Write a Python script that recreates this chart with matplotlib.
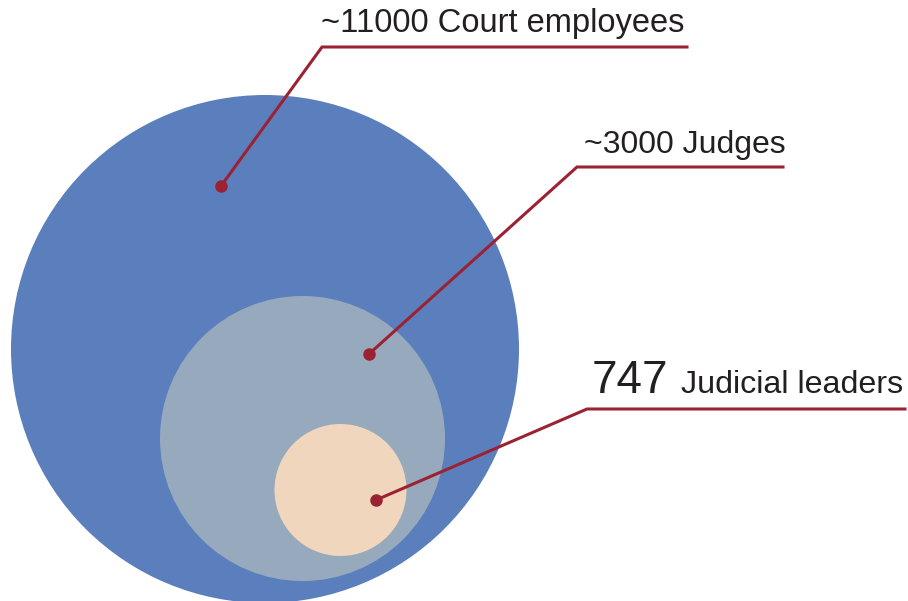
import matplotlib.pyplot as plt
from matplotlib.patches import Circle

# nested groups, largest first
groups = ["Court employees", "Judges", "Judicial leaders"]
counts = ["~11000", "~3000", "747"]
fills = ["#5b7fbd", "#97a9bd", "#f0d6bc"]

# circle geometry in pixel coords (y down)
centers = [(265, 349), (302.5, 438.5), (340.5, 490)]
radii = [254, 142.5, 66]

# callouts: dot, elbow, end of underline
dots = [(221, 186), (369, 354), (376, 500)]
elbows = [(322, 47), (577, 167), (587, 409)]
line_ends = [687, 783, 905]

red = "#9b2233"
ink = "#231f20"
plt.rcParams['font.family'] = ['Liberation Sans', 'DejaVu Sans']

fig = plt.figure(figsize=(9.08, 6.01), dpi=100)
ax = fig.add_axes([0, 0, 1, 1])
ax.set_xlim(0, 908)
ax.set_ylim(601, 0)
ax.set_aspect('equal')
ax.axis('off')

for c, r, col in zip(centers, radii, fills):
    ax.add_patch(Circle(c, r, facecolor=col, edgecolor='none'))

for d, e, x_end in zip(dots, elbows, line_ends):
    ax.plot([d[0], e[0], x_end], [d[1], e[1], e[1]], color=red, lw=2.2,
            solid_joinstyle='miter')
    ax.plot(d[0], d[1], 'o', color=red, ms=8)

ax.text(321, 32, f"{counts[0]} {groups[0]}", fontsize=23.5, color=ink,
        ha='left', va='baseline')
ax.text(584, 153, f"{counts[1]} {groups[1]}", fontsize=23, color=ink,
        ha='left', va='baseline')
ax.text(592, 393, counts[2], fontsize=33, color=ink,
        ha='left', va='baseline')
ax.text(681, 393, groups[2], fontsize=23.2, color=ink,
        ha='left', va='baseline')

plt.savefig("out.png", dpi=100)
